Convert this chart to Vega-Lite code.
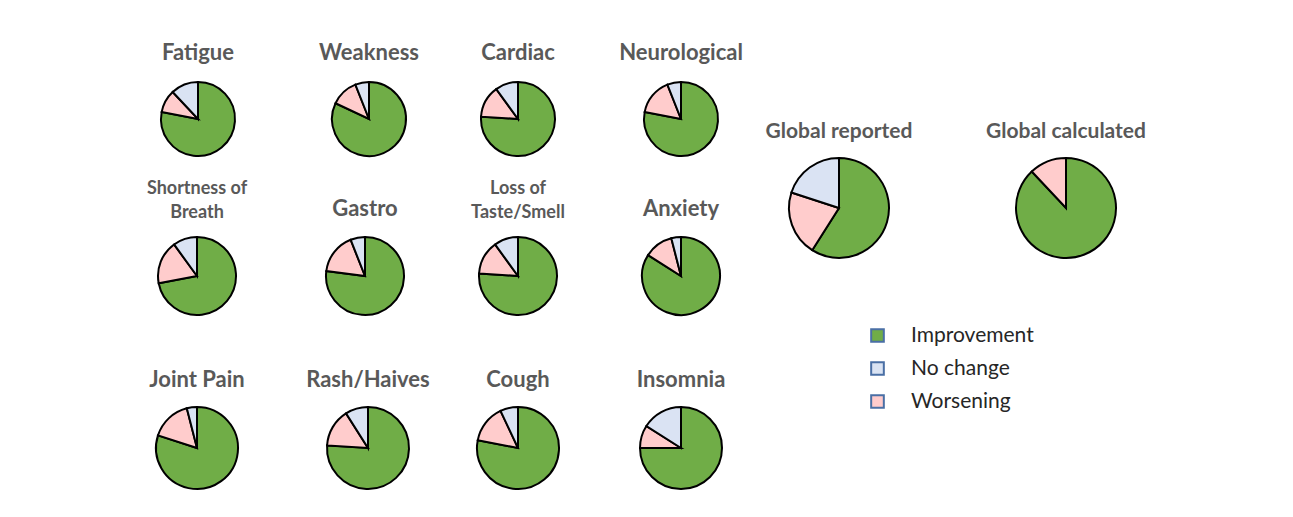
{
  "$schema": "https://vega.github.io/schema/vega-lite/v6.json",
  "padding": {"left": 108, "top": 42, "right": 5, "bottom": 5},
  "datasets": {
    "pies": [
      {"symptom": "Fatigue", "outcome": "Improvement", "pct": 78, "rank": 1},
      {"symptom": "Fatigue", "outcome": "Worsening", "pct": 10, "rank": 2},
      {"symptom": "Fatigue", "outcome": "No change", "pct": 12, "rank": 3},
      {"symptom": "Weakness", "outcome": "Improvement", "pct": 82, "rank": 1},
      {"symptom": "Weakness", "outcome": "Worsening", "pct": 12, "rank": 2},
      {"symptom": "Weakness", "outcome": "No change", "pct": 6, "rank": 3},
      {"symptom": "Cardiac", "outcome": "Improvement", "pct": 76, "rank": 1},
      {"symptom": "Cardiac", "outcome": "Worsening", "pct": 14, "rank": 2},
      {"symptom": "Cardiac", "outcome": "No change", "pct": 10, "rank": 3},
      {"symptom": "Neurological", "outcome": "Improvement", "pct": 78, "rank": 1},
      {"symptom": "Neurological", "outcome": "Worsening", "pct": 16, "rank": 2},
      {"symptom": "Neurological", "outcome": "No change", "pct": 6, "rank": 3},
      {"symptom": "Shortness of Breath", "outcome": "Improvement", "pct": 72, "rank": 1},
      {"symptom": "Shortness of Breath", "outcome": "Worsening", "pct": 18, "rank": 2},
      {"symptom": "Shortness of Breath", "outcome": "No change", "pct": 10, "rank": 3},
      {"symptom": "Gastro", "outcome": "Improvement", "pct": 77, "rank": 1},
      {"symptom": "Gastro", "outcome": "Worsening", "pct": 17, "rank": 2},
      {"symptom": "Gastro", "outcome": "No change", "pct": 6, "rank": 3},
      {"symptom": "Loss of Taste/Smell", "outcome": "Improvement", "pct": 76, "rank": 1},
      {"symptom": "Loss of Taste/Smell", "outcome": "Worsening", "pct": 14, "rank": 2},
      {"symptom": "Loss of Taste/Smell", "outcome": "No change", "pct": 10, "rank": 3},
      {"symptom": "Anxiety", "outcome": "Improvement", "pct": 84, "rank": 1},
      {"symptom": "Anxiety", "outcome": "Worsening", "pct": 12, "rank": 2},
      {"symptom": "Anxiety", "outcome": "No change", "pct": 4, "rank": 3},
      {"symptom": "Joint Pain", "outcome": "Improvement", "pct": 80, "rank": 1},
      {"symptom": "Joint Pain", "outcome": "Worsening", "pct": 16, "rank": 2},
      {"symptom": "Joint Pain", "outcome": "No change", "pct": 4, "rank": 3},
      {"symptom": "Rash/Haives", "outcome": "Improvement", "pct": 76, "rank": 1},
      {"symptom": "Rash/Haives", "outcome": "Worsening", "pct": 15, "rank": 2},
      {"symptom": "Rash/Haives", "outcome": "No change", "pct": 9, "rank": 3},
      {"symptom": "Cough", "outcome": "Improvement", "pct": 78, "rank": 1},
      {"symptom": "Cough", "outcome": "Worsening", "pct": 15, "rank": 2},
      {"symptom": "Cough", "outcome": "No change", "pct": 7, "rank": 3},
      {"symptom": "Insomnia", "outcome": "Improvement", "pct": 75, "rank": 1},
      {"symptom": "Insomnia", "outcome": "Worsening", "pct": 9, "rank": 2},
      {"symptom": "Insomnia", "outcome": "No change", "pct": 16, "rank": 3},
      {"symptom": "Global reported", "outcome": "Improvement", "pct": 59, "rank": 1},
      {"symptom": "Global reported", "outcome": "Worsening", "pct": 21, "rank": 2},
      {"symptom": "Global reported", "outcome": "No change", "pct": 20, "rank": 3},
      {"symptom": "Global calculated", "outcome": "Improvement", "pct": 88, "rank": 1},
      {"symptom": "Global calculated", "outcome": "Worsening", "pct": 12, "rank": 2}
    ]
  },
  "data": {"name": "pies"},
  "bounds": "flush",
  "align": "none",
  "columns": 6,
  "spacing": {"row": -98, "column": 0},
  "concat": [
    {"width": 180, "height": 74, "title": {"text": "Fatigue", "offset": 13}, "transform": [{"filter": "datum.symptom === 'Fatigue'"}], "mark": {"type": "arc", "outerRadius": 37}, "encoding": {"theta": {"field": "pct", "type": "quantitative", "stack": true}, "color": {"field": "outcome", "type": "nominal"}, "order": {"field": "rank", "type": "quantitative"}}},
    {"width": 162, "height": 74, "title": {"text": "Weakness", "offset": 13}, "transform": [{"filter": "datum.symptom === 'Weakness'"}], "mark": {"type": "arc", "outerRadius": 37}, "encoding": {"theta": {"field": "pct", "type": "quantitative", "stack": true}, "color": {"field": "outcome", "type": "nominal"}, "order": {"field": "rank", "type": "quantitative"}}},
    {"width": 136, "height": 74, "title": {"text": "Cardiac", "offset": 13}, "transform": [{"filter": "datum.symptom === 'Cardiac'"}], "mark": {"type": "arc", "outerRadius": 37}, "encoding": {"theta": {"field": "pct", "type": "quantitative", "stack": true}, "color": {"field": "outcome", "type": "nominal"}, "order": {"field": "rank", "type": "quantitative"}}},
    {"width": 190, "height": 74, "title": {"text": "Neurological", "offset": 13}, "transform": [{"filter": "datum.symptom === 'Neurological'"}], "mark": {"type": "arc", "outerRadius": 37}, "encoding": {"theta": {"field": "pct", "type": "quantitative", "stack": true}, "color": {"field": "outcome", "type": "nominal"}, "order": {"field": "rank", "type": "quantitative"}}},
    {"width": 126, "height": 252, "title": {"text": "Global reported", "offset": -60, "fontSize": 21}, "transform": [{"filter": "datum.symptom === 'Global reported'"}], "mark": {"type": "arc", "outerRadius": 50}, "encoding": {"theta": {"field": "pct", "type": "quantitative", "stack": true}, "color": {"field": "outcome", "type": "nominal"}, "order": {"field": "rank", "type": "quantitative"}}},
    {"width": 328, "height": 252, "title": {"text": "Global calculated", "offset": -60, "fontSize": 21}, "transform": [{"filter": "datum.symptom === 'Global calculated'"}], "mark": {"type": "arc", "outerRadius": 50}, "encoding": {"theta": {"field": "pct", "type": "quantitative", "stack": true}, "color": {"field": "outcome", "type": "nominal"}, "order": {"field": "rank", "type": "quantitative"}}},
    {"width": 178, "height": 80, "title": {"text": ["Shortness of", "Breath"], "fontSize": 18, "lineHeight": 24, "offset": 11}, "transform": [{"filter": "datum.symptom === 'Shortness of Breath'"}], "mark": {"type": "arc", "outerRadius": 39}, "encoding": {"theta": {"field": "pct", "type": "quantitative", "stack": true}, "color": {"field": "outcome", "type": "nominal"}, "order": {"field": "rank", "type": "quantitative"}}},
    {"width": 154, "height": 80, "title": {"text": "Gastro", "offset": 12}, "transform": [{"filter": "datum.symptom === 'Gastro'"}], "mark": {"type": "arc", "outerRadius": 39}, "encoding": {"theta": {"field": "pct", "type": "quantitative", "stack": true}, "color": {"field": "outcome", "type": "nominal"}, "order": {"field": "rank", "type": "quantitative"}}},
    {"width": 136, "height": 80, "title": {"text": ["Loss of", "Taste/Smell"], "fontSize": 18, "lineHeight": 24, "offset": 11}, "transform": [{"filter": "datum.symptom === 'Loss of Taste/Smell'"}], "mark": {"type": "arc", "outerRadius": 39}, "encoding": {"theta": {"field": "pct", "type": "quantitative", "stack": true}, "color": {"field": "outcome", "type": "nominal"}, "order": {"field": "rank", "type": "quantitative"}}},
    {"width": 190, "height": 80, "title": {"text": "Anxiety", "offset": 12}, "transform": [{"filter": "datum.symptom === 'Anxiety'"}], "mark": {"type": "arc", "outerRadius": 39}, "encoding": {"theta": {"field": "pct", "type": "quantitative", "stack": true}, "color": {"field": "outcome", "type": "nominal"}, "order": {"field": "rank", "type": "quantitative"}}},
    {"width": 1, "height": 258, "transform": [{"filter": "false"}], "mark": "point", "encoding": {}},
    {"width": 1, "height": 258, "transform": [{"filter": "false"}], "mark": "point", "encoding": {}},
    {"width": 178, "height": 104, "title": {"text": "Joint Pain", "offset": 4}, "transform": [{"filter": "datum.symptom === 'Joint Pain'"}], "mark": {"type": "arc", "outerRadius": 41}, "encoding": {"theta": {"field": "pct", "type": "quantitative", "stack": true}, "color": {"field": "outcome", "type": "nominal"}, "order": {"field": "rank", "type": "quantitative"}}},
    {"width": 160, "height": 104, "title": {"text": "Rash/Haives", "offset": 4}, "transform": [{"filter": "datum.symptom === 'Rash/Haives'"}], "mark": {"type": "arc", "outerRadius": 41}, "encoding": {"theta": {"field": "pct", "type": "quantitative", "stack": true}, "color": {"field": "outcome", "type": "nominal"}, "order": {"field": "rank", "type": "quantitative"}}},
    {"width": 136, "height": 104, "title": {"text": "Cough", "offset": 4}, "transform": [{"filter": "datum.symptom === 'Cough'"}], "mark": {"type": "arc", "outerRadius": 41}, "encoding": {"theta": {"field": "pct", "type": "quantitative", "stack": true}, "color": {"field": "outcome", "type": "nominal"}, "order": {"field": "rank", "type": "quantitative"}}},
    {"width": 190, "height": 104, "title": {"text": "Insomnia", "offset": 4}, "transform": [{"filter": "datum.symptom === 'Insomnia'"}], "mark": {"type": "arc", "outerRadius": 41}, "encoding": {"theta": {"field": "pct", "type": "quantitative", "stack": true}, "color": {"field": "outcome", "type": "nominal"}, "order": {"field": "rank", "type": "quantitative"}}}
  ],
  "config": {
    "view": {"stroke": null},
    "range": {"category": ["#70AD47", "#DAE3F3", "#FFCCCC"]},
    "arc": {"stroke": "#000000", "strokeWidth": 2},
    "title": {"font": "Lato", "fontWeight": "bold", "fontSize": 22, "color": "#595959", "baseline": "bottom", "anchor": "middle"},
    "legend": {
      "orient": "none",
      "legendX": 759,
      "legendY": 243,
      "title": null,
      "symbolType": "square",
      "symbolSize": 160,
      "symbolStrokeColor": "#4A6FA5",
      "symbolStrokeWidth": 1.5,
      "symbolOpacity": 1,
      "labelFont": "Lato",
      "labelFontSize": 21,
      "labelColor": "#262626",
      "labelOffset": 23,
      "rowPadding": 11
    }
  }
}
